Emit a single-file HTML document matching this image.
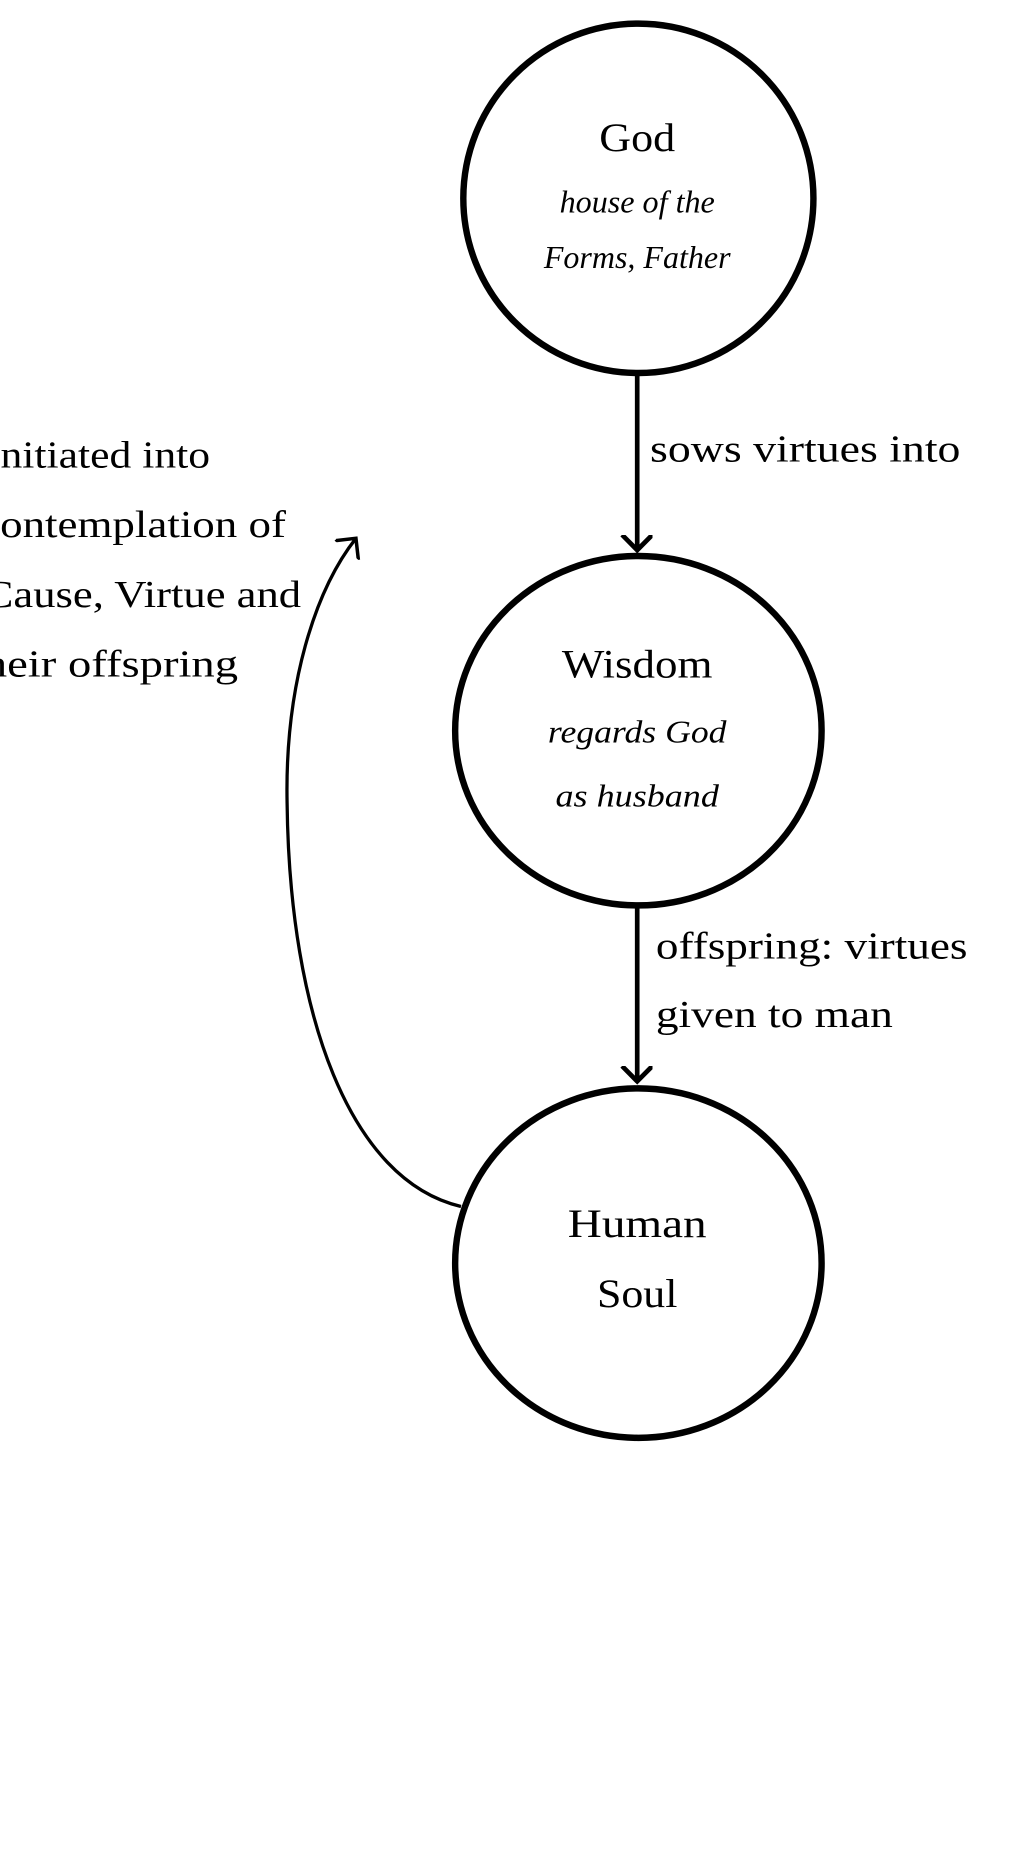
<!DOCTYPE html>
<html><head><meta charset="utf-8"><style>
html,body{margin:0;padding:0;background:#fff;overflow:hidden}
svg{display:block}
text{font-family:"Liberation Serif",serif;fill:#000}
</style></head><body>
<svg width="1027" height="1851" viewBox="0 0 880 1568" preserveAspectRatio="none">
<defs>
<marker id="a" markerWidth="30" markerHeight="30" refX="13" refY="13" orient="auto" markerUnits="userSpaceOnUse"><path d="M0,0 L13,13 L0,26" fill="none" stroke="#000" stroke-width="4"/></marker>
<marker id="b" markerWidth="30" markerHeight="30" refX="13" refY="13" orient="auto" markerUnits="userSpaceOnUse"><path d="M0,0 L13,13 L0,26" fill="none" stroke="#000" stroke-width="3"/></marker>
</defs>
<g fill="none" stroke="#000" stroke-width="5.5">
<ellipse cx="547" cy="168" rx="150" ry="148"/>
<ellipse cx="547" cy="619" rx="157" ry="148"/>
<ellipse cx="547" cy="1070" rx="157" ry="148"/>
</g>
<g stroke="#000" stroke-width="4" fill="none">
<line x1="546" y1="318" x2="546" y2="466" marker-end="url(#a)"/>
<line x1="546" y1="768" x2="546" y2="916" marker-end="url(#a)"/>
</g>
<path d="M395,1022 C300,1000 248,860 246,680 C244,580 270,500 305,456" fill="none" stroke="#000" stroke-width="2.8" marker-end="url(#b)"/>
<g text-anchor="middle" font-size="34" lengthAdjust="spacingAndGlyphs">
<text x="546" y="128" textLength="65" lengthAdjust="spacingAndGlyphs">God</text>
<text x="546" y="574" textLength="129" lengthAdjust="spacingAndGlyphs">Wisdom</text>
<text x="546" y="1048" textLength="119" lengthAdjust="spacingAndGlyphs">Human</text>
<text x="546" y="1107" textLength="69" lengthAdjust="spacingAndGlyphs">Soul</text>
</g>
<g text-anchor="middle" font-size="27" font-style="italic">
<text x="546" y="180" textLength="133" lengthAdjust="spacingAndGlyphs">house of the</text>
<text x="546" y="227" textLength="160" lengthAdjust="spacingAndGlyphs">Forms, Father</text>
<text x="546" y="629" textLength="153" lengthAdjust="spacingAndGlyphs">regards God</text>
<text x="546" y="683" textLength="140" lengthAdjust="spacingAndGlyphs">as husband</text>
</g>
<g font-size="32">
<text x="557" y="391" textLength="266" lengthAdjust="spacingAndGlyphs">sows virtues into</text>
<text x="562" y="812" textLength="267" lengthAdjust="spacingAndGlyphs">offspring: virtues</text>
<text x="562" y="870" textLength="203" lengthAdjust="spacingAndGlyphs">given to man</text>
</g>
<g font-size="32">
<text x="-10" y="396" textLength="190" lengthAdjust="spacingAndGlyphs">initiated into</text>
<text x="-17" y="455" textLength="262" lengthAdjust="spacingAndGlyphs">contemplation of</text>
<text x="-14" y="514" textLength="272" lengthAdjust="spacingAndGlyphs">Cause, Virtue and</text>
<text x="-25" y="573" textLength="229" lengthAdjust="spacingAndGlyphs">their offspring</text>
</g>
</svg>
</body></html>
